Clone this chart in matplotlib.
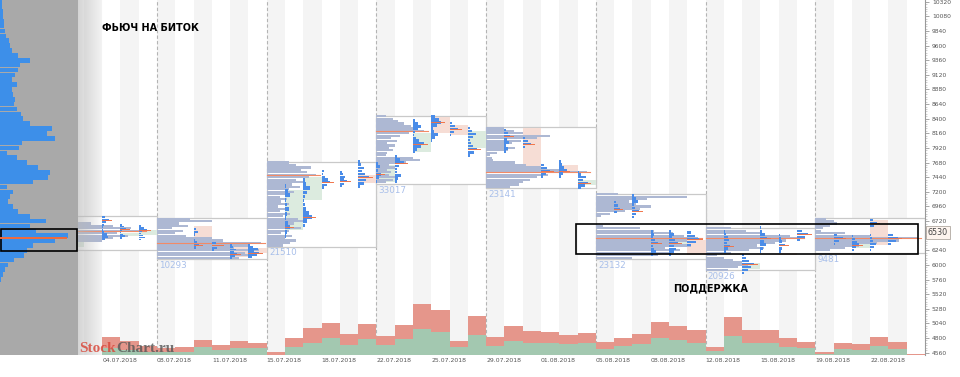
import numpy as np
import matplotlib
matplotlib.use("Agg")
import matplotlib.pyplot as plt
from matplotlib.patches import Rectangle
from matplotlib.ticker import MultipleLocator

# one column = 1/6 of a week, column 0 starts on 08.07.2018
date_labels = ['04.07.2018', '08.07.2018', '11.07.2018', '15.07.2018', '18.07.2018',
               '22.07.2018', '25.07.2018', '29.07.2018', '01.08.2018', '05.08.2018',
               '08.08.2018', '12.08.2018', '15.08.2018', '19.08.2018', '22.08.2018']

# volume histogram, columns -3 .. 41
vol_first_col = -3
vol_buy = [6.7, 5.0, 3.3, 2.7, 3.3, 8.3, 5.0, 6.7, 6.7, 0.0, 8.3, 12.3, 16.7, 10.0, 16.0,
           10.0, 15.7, 26.0, 22.7, 7.7, 20.0, 9.3, 14.3, 11.7, 11.7, 11.3, 11.7, 6.0, 9.3,
           11.0, 16.7, 14.7, 12.3, 4.3, 18.7, 12.3, 12.3, 8.3, 6.7, 1.3, 6.0, 5.3, 9.0, 6.0, 0.0]
vol_sell = [11.7, 8.7, 6.0, 4.7, 4.3, 6.3, 4.7, 7.3, 5.7, 2.7, 8.3, 14.3, 15.7, 10.7, 15.3,
            9.3, 14.3, 25.0, 22.0, 6.3, 19.3, 9.0, 15.0, 12.7, 11.7, 9.0, 10.3, 7.0, 8.0,
            10.0, 16.7, 14.3, 12.3, 3.7, 19.7, 12.7, 12.7, 8.3, 6.3, 1.3, 5.7, 5.7, 8.7, 6.7, 1.0]

# weekly profiles (price step 40)
week_vol = ['', '10293', '21510', '33017', '23141', '23132', '20926', '9481']
box_lo = [6245, 6098, 6300, 7328, 7258, 6090, 5917, 6200]
box_hi = [6808, 6766, 7695, 8444, 8268, 7172, 6601, 6766]
week_poc = [6560, 6360, 7480, 8200, 7520, 6440, 6440, 6440]
prof_lo = [6400, 6120, 6320, 7360, 7280, 6120, 5920, 6240]
prof = [
    [3.0, 3.6, 4.4, 3.8, 5.2, 4.6, 3.6, 2.4],
    [4.5, 5.2, 4.8, 5.6, 4.2, 5.0, 5.7, 3.6, 3.0, 1.6, 1.0, 1.4, 0.8, 1.7, 1.2, 3.0, 1.8],
    [0.9, 1.3, 1.6, 1.0, 1.4, 0.8, 1.2, 1.9, 1.1, 1.5, 2.0, 1.7, 0.9, 1.3, 0.7, 1.0, 0.6,
     1.2, 0.8, 1.1, 0.7, 1.0, 1.5, 1.2, 1.8, 1.4, 2.0, 1.6, 2.3, 2.7, 2.2, 1.9, 2.4, 1.6, 1.2],
    [0.5, 0.9, 1.1, 0.7, 0.8, 0.6, 1.0, 0.7, 1.6, 2.4, 2.0, 0.5, 0.6, 0.9, 0.7, 1.0, 0.6,
     1.1, 0.8, 1.3, 1.8, 2.6, 2.2, 1.9, 1.5, 1.2, 0.9, 0.5],
    [1.3, 1.8, 2.0, 2.4, 2.8, 3.4, 5.5, 4.2, 3.0, 2.2, 1.6, 0.4, 0.3, 0.2, 0.6, 1.2, 1.6,
     1.0, 1.4, 1.9, 2.8, 3.5, 2.0, 1.5, 1.0],
    [2.0, 3.4, 4.0, 4.6, 3.8, 5.2, 4.4, 5.0, 5.6, 4.8, 4.2, 3.2, 2.4, 0.4, 0.0, 0.0, 0.0,
     0.3, 0.8, 1.6, 2.4, 3.0, 2.2, 1.8, 2.8, 5.0, 1.2],
    [1.2, 1.8, 2.3, 2.0, 1.5, 1.0, 0.6, 1.4, 2.4, 3.2, 2.8, 3.8, 4.4, 5.2, 4.6, 3.0, 2.2, 1.4],
    [0.8, 1.6, 2.4, 3.4, 4.6, 5.6, 3.0, 1.6, 0.3, 0.4, 0.8, 1.2, 1.0, 0.6],
]

# daily bodies
body_col = [-5, -2, -1, 2, 4, 5, 7, 8, 11, 12, 14, 15, 16, 17, 20, 22, 23, 28, 29, 32, 34, 38, 39]
body_open = [6300, 6470, 6490, 6640, 6360, 6280, 6570, 7070, 7476, 7365, 7854, 8436, 8300,
             7920, 8247, 7640, 7310, 6320, 6410, 5940, 6190, 6280, 6740]
body_close = [6490, 6530, 6574, 6385, 6135, 6190, 7235, 7440, 7345, 7640, 8166, 8166, 8140,
              8190, 7558, 7510, 7395, 6440, 6165, 6030, 6160, 6383, 6330]

# daily mini profiles (lo, hi, widths bottom->top)
mini_col = [-3, -2, -1, 2, 3, 4, 5, 7, 8, 9, 10, 11, 12, 13, 14, 15, 16, 17, 19, 20, 21, 22,
            23, 25, 26, 27, 28, 29, 31, 32, 33, 34, 35, 37, 38, 39, 40]
mini_lo = [6420, 6440, 6420, 6245, 6245, 6110, 6135, 6470, 6650, 7270, 7290, 7290, 7370, 7370,
           7850, 8043, 8130, 7800, 7860, 7940, 7450, 7450, 7260, 6870, 6785, 6170, 6170, 6330,
           6220, 5865, 6220, 6220, 6410, 6350, 6245, 6245, 6350]
mini_hi = [6780, 6660, 6640, 6626, 6360, 6326, 6326, 7290, 7395, 7580, 7530, 7695, 7670, 7780,
           8370, 8436, 8330, 8250, 8215, 8085, 7640, 7695, 7530, 7030, 7140, 6550, 6550, 6530,
           6550, 6165, 6610, 6490, 6550, 6490, 6470, 6740, 6490]
mini_vals = [
    [0.15, 0.3, 0.25, 0.1, 0.05, 0.05, 0.1, 0.2, 0.35, 0.15],
    [0.1, 0.25, 0.15, 0.05, 0.1, 0.3, 0.2, 0.1],
    [0.15, 0.35, 0.25, 0.1, 0.2, 0.45, 0.3, 0.1],
    [0.05, 0.15, 0.3, 0.2, 0.1, 0.05, 0.1, 0.25, 0.15, 0.05],
    [0.1, 0.3, 0.45, 0.2],
    [0.1, 0.25, 0.4, 0.2, 0.3, 0.15, 0.1],
    [0.2, 0.45, 0.6, 0.3, 0.5, 0.25, 0.1],
    [0.05, 0.1, 0.3, 0.15, 0.05, 0.1, 0.2, 0.1, 0.05, 0.3, 0.15, 0.05],
    [0.1, 0.2, 0.5, 0.3, 0.15, 0.1, 0.05, 0.1, 0.2, 0.35, 0.15, 0.1],
    [0.15, 0.3, 0.45, 0.35, 0.2, 0.1, 0.15, 0.05],
    [0.1, 0.25, 0.4, 0.2, 0.3, 0.15, 0.1],
    [0.1, 0.3, 0.45, 0.6, 0.35, 0.2, 0.3, 0.15, 0.1],
    [0.05, 0.15, 0.25, 0.1, 0.2, 0.1],
    [0.1, 0.2, 0.35, 0.15, 0.1, 0.25, 0.5, 0.3, 0.15],
    [0.1, 0.2, 0.45, 0.6, 0.35, 0.15, 0.05, 0.1, 0.3, 0.45, 0.25, 0.1],
    [0.05, 0.2, 0.35, 0.15, 0.1, 0.3, 0.55, 0.4, 0.2],
    [0.1, 0.25, 0.45, 0.3, 0.15],
    [0.1, 0.35, 0.5, 0.3, 0.15, 0.1, 0.3, 0.45, 0.2, 0.1],
    [0.1, 0.2, 0.1, 0.25, 0.15, 0.3, 0.2, 0.1],
    [0.15, 0.45, 0.3, 0.1],
    [0.1, 0.3, 0.5, 0.35, 0.15],
    [0.1, 0.2, 0.4, 0.25, 0.15, 0.1],
    [0.2, 0.4, 0.55, 0.3, 0.45, 0.2, 0.1],
    [0.15, 0.3, 0.2, 0.1],
    [0.1, 0.2, 0.35, 0.15, 0.1, 0.3, 0.2, 0.1],
    [0.1, 0.3, 0.2, 0.15, 0.4, 0.25, 0.1, 0.2, 0.1],
    [0.1, 0.25, 0.4, 0.3, 0.5, 0.35, 0.15, 0.3, 0.1],
    [0.2, 0.5, 0.65, 0.4, 0.2],
    [0.1, 0.2, 0.35, 0.15, 0.3, 0.2, 0.1, 0.05],
    [0.1, 0.3, 0.5, 0.65, 0.35, 0.2, 0.1],
    [0.05, 0.15, 0.3, 0.2, 0.35, 0.25, 0.1, 0.05],
    [0.1, 0.2, 0.35, 0.2, 0.1, 0.05],
    [0.15, 0.45, 0.6, 0.3],
    [0.1, 0.3, 0.5, 0.2],
    [0.1, 0.25, 0.4, 0.3, 0.15, 0.05],
    [0.05, 0.2, 0.3, 0.15, 0.1, 0.05, 0.0, 0.0, 0.2, 0.35, 0.15],
    [0.15, 0.4, 0.55, 0.25],
]

# overall profile on the left (price step 80, from 5760 up)
all_lo = 5760
all_prof = [1, 3, 5, 8, 14, 24, 27, 33, 55, 68, 36, 30, 46, 30, 18, 13, 8, 10, 13, 7, 33, 48,
            50, 38, 27, 17, 7, 19, 22, 55, 47, 52, 30, 23, 21, 17, 14, 15, 13, 12, 17, 12, 15,
            18, 20, 30, 18, 12, 10, 9, 6, 5, 4, 4, 3, 3, 2, 2]
all_poc = 6440
last_price = 6530

W, H = 960, 377
PLO, PHI = 4522, 10348
CLO, CHI = -4.32, 42.0


def rect(x0, y0, x1, y1):
    return [x0 / W, 1 - y1 / H, (x1 - x0) / W, (y1 - y0) / H]


fig = plt.figure(figsize=(9.6, 3.77), dpi=100)
axl = fig.add_axes(rect(0, 0, 78, 355))
ax = fig.add_axes(rect(78, 0, 925, 355))
axv = fig.add_axes(rect(78, 0, 925, 355))

# left overall profile
axl.set_facecolor('#a9a9a9')
lv = all_lo + 80 * np.arange(len(all_prof))
axl.barh(lv, all_prof, height=76, left=0, color='#3d8fe9', lw=0)
axl.plot([0, max(all_prof) - 2], [all_poc, all_poc], color='#f26a3a', lw=1.4)
axl.add_patch(Rectangle((0.5, 6225), 76.5, 360, fill=False, ec='black', lw=1.2))
axl.set_xlim(0, 78)
axl.set_ylim(PLO, PHI)
axl.set_xticks([])
axl.set_yticks([])
for s in axl.spines.values():
    s.set_visible(False)

# background columns and week separators
for k in range(-6, 42, 2):
    ax.axvspan(k, k + 1, color='#f4f4f4', lw=0, zorder=0)
for k in range(0, 42, 6):
    ax.axvline(k, color='#b4b4b4', lw=0.8, ls=(0, (3, 2)), zorder=1)

for w in range(len(week_vol)):
    s = -6 + 6 * w
    ax.add_patch(Rectangle((s, box_lo[w]), 6, box_hi[w] - box_lo[w], fc='white',
                           ec='#c9c9c9', lw=0.9, zorder=2))
    lv = prof_lo[w] + 40 * np.arange(len(prof[w]))
    ax.barh(lv, prof[w], height=36, left=s, color='#adb8d3', lw=0, zorder=3)
    ax.plot([s, s + max(prof[w]) + 0.2], [week_poc[w], week_poc[w]],
            color='#f28a66', lw=0.8, zorder=4)
    if week_vol[w]:
        ax.text(s + 0.12, box_lo[w] - 30, week_vol[w], color='#a8bfea', fontsize=6.3,
                va='top', ha='left', zorder=6)

for c, o, cl in zip(body_col, body_open, body_close):
    fc = '#dcebdf' if cl > o else '#f6ddd5'
    ax.add_patch(Rectangle((c, min(o, cl)), 1, abs(cl - o), fc=fc, lw=0, zorder=2.5))

for c, lo, hi, vals in zip(mini_col, mini_lo, mini_hi, mini_vals):
    lv = np.linspace(lo, hi, len(vals))
    ax.barh(lv, vals, height=(hi - lo) / len(vals) * 0.95, left=c, color='#4a8ce8',
            lw=0, zorder=5)
    pk = int(np.argmax(vals))
    ax.plot([c, c + vals[pk] + 0.15], [lv[pk], lv[pk]], color='#f0744a', lw=0.7, zorder=5.5)

# support box
ax.add_patch(Rectangle((22.92, 6186), 41.6 - 22.92, 6672 - 6186, fill=False, ec='black',
                       lw=1.2, zorder=6))

# shade next to the left panel
shade = np.zeros((1, 60, 4))
shade[..., :3] = 0.72
shade[..., 3] = np.linspace(0.6, 0.0, 60)
ax.imshow(shade, extent=[CLO, -3.0, PLO, PHI], aspect='auto', zorder=7)

ax.set_xlim(CLO, CHI)
ax.set_ylim(PLO, PHI)
ax.set_xticks(np.arange(len(date_labels)) * 3 - 3)
ax.set_xticklabels(date_labels, ha='left')
ax.tick_params(axis='x', length=0, pad=2.5, labelsize=4.4, labelcolor='#555555')
ax.yaxis.tick_right()
yt = np.arange(4560, 10321, 240)
ax.set_yticks(yt)
# the last-price box hides the label right under it
ax.set_yticklabels(['' if abs(v - last_price) < 100 else str(v) for v in yt])
ax.yaxis.set_minor_locator(MultipleLocator(40))
ax.tick_params(axis='y', which='major', length=3, width=0.6, color='#999999', pad=2,
               labelsize=4.3, labelcolor='#555555')
ax.tick_params(axis='y', which='minor', length=1.5, width=0.4, color='#aaaaaa')
for side in ['top', 'left', 'bottom']:
    ax.spines[side].set_visible(False)
ax.spines['right'].set_color('#999999')
ax.spines['right'].set_linewidth(0.8)

ax.text(42.15, last_price, str(last_price), fontsize=5.8, va='center', ha='left',
        color='#444444', clip_on=False, zorder=8,
        bbox=dict(boxstyle='square,pad=0.25', fc='#fdf4ee', ec='#b0a8a0', lw=0.6))

# volume bars
xs = vol_first_col + np.arange(len(vol_buy))
axv.bar(xs, vol_buy, width=1, align='edge', color='#a3c8b0', lw=0)
axv.bar(xs, vol_sell, bottom=vol_buy, width=1, align='edge', color='#e5968b', lw=0)
axv.set_xlim(CLO, CHI)
axv.set_ylim(0, 355)
axv.patch.set_visible(False)
axv.axis('off')

fig.text(102 / W, 1 - 28 / H, 'ФЬЮЧ НА БИТОК', fontsize=7, fontweight='bold', va='center')
fig.text(673 / W, 1 - 288 / H, 'ПОДДЕРЖКА', fontsize=7, fontweight='bold', va='center')
fig.text(79 / W, 1 - 352 / H, 'Stock', fontsize=11, fontweight='bold',
         family='Liberation Serif', color='#d8493c', alpha=0.85)
fig.text(116.5 / W, 1 - 352 / H, 'Chart.ru', fontsize=11, fontweight='bold',
         family='Liberation Serif', color='#555555', alpha=0.8)

fig.savefig('out.png', dpi=100)
